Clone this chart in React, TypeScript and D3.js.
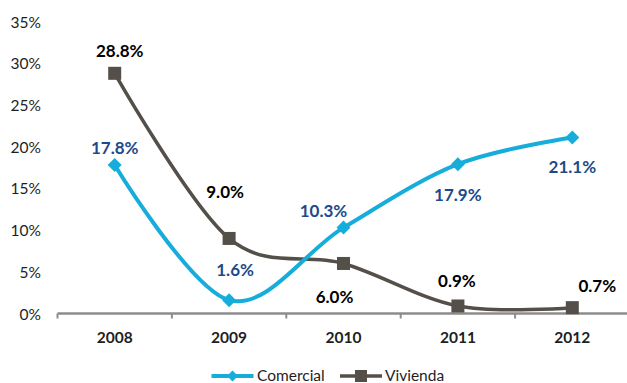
import React from 'react';
import * as d3 from 'd3';

const years = ['2008', '2009', '2010', '2011', '2012'];
const comercial = [17.8, 1.6, 10.3, 17.9, 21.1];
const vivienda = [28.8, 9.0, 6.0, 0.9, 0.7];
const yTicks = [0, 5, 10, 15, 20, 25, 30, 35];
const seriesNames = ['Comercial', 'Vivienda'];

// label placement offsets (dx, dy) relative to each point
const comercialLabelOffsets = [[0, -18], [6, -31], [-20, -17], [0, 30], [0, 29]];
const viviendaLabelOffsets = [[5, -23], [-4, -47], [-9, 33], [-1, -25], [25, -22]];

const W = 627;
const H = 383;
const FONT = 'Lato, "Open Sans", sans-serif';
const C_COM = '#17ADDA';
const C_COM_LABEL = '#1D4A8A';
const C_VIV = '#544F48';
const AXIS = '#8C8C8C';
const TEXT = '#1E1E1E';

export default function App() {
  const x = d3.scaleBand<string>().domain(years).range([57.5, 629.5]).paddingInner(0).paddingOuter(0);
  const y = d3.scaleLinear().domain([0, 35]).range([313.5, 21.6]);
  const cx = (yr: string) => (x(yr) as number) + x.bandwidth() / 2;

  const line = d3
    .line<number>()
    .x((_, i) => cx(years[i]))
    .y((d) => y(d))
    .curve(d3.curveCardinal.tension(0));

  const diamond = (px: number, py: number, r: number) =>
    `M${px},${py - r}L${px + r},${py}L${px},${py + r}L${px - r},${py}Z`;

  const boundaries = years.map((yr) => x(yr) as number);

  return (
    <svg width={W} height={H} style={{ position: 'absolute', left: 0, top: 0, background: '#fff' }}>
      {/* y tick labels */}
      {yTicks.map((t) => (
        <text
          key={t}
          x={41}
          y={y(t)}
          textAnchor="end"
          dominantBaseline="central"
          fontFamily={FONT}
          fontSize={15.5}
          fill={TEXT}
        >
          {t}%
        </text>
      ))}

      {/* x axis */}
      <line x1={57.5} x2={W} y1={y(0)} y2={y(0)} stroke={AXIS} strokeWidth={2.5} />
      {boundaries.map((b, i) => (
        <line key={i} x1={b} x2={b} y1={y(0)} y2={y(0) + 5} stroke={AXIS} strokeWidth={2} />
      ))}
      {years.map((yr) => (
        <text
          key={yr}
          x={cx(yr)}
          y={337}
          textAnchor="middle"
          dominantBaseline="central"
          fontFamily={FONT}
          fontWeight="bold"
          fontSize={15.5}
          fill={TEXT}
        >
          {yr}
        </text>
      ))}

      {/* lines */}
      <path d={line(vivienda) || ''} fill="none" stroke={C_VIV} strokeWidth={3.5} />
      <path d={line(comercial) || ''} fill="none" stroke={C_COM} strokeWidth={4} />

      {/* markers */}
      {vivienda.map((v, i) => (
        <rect key={'v' + i} x={cx(years[i]) - 6.5} y={y(v) - 6.5} width={13} height={13} fill={C_VIV} />
      ))}
      {comercial.map((v, i) => (
        <path key={'c' + i} d={diamond(cx(years[i]), y(v), 7)} fill={C_COM} />
      ))}

      {/* data labels */}
      {vivienda.map((v, i) => (
        <text
          key={'vl' + i}
          x={cx(years[i]) + viviendaLabelOffsets[i][0]}
          y={y(v) + viviendaLabelOffsets[i][1]}
          textAnchor="middle"
          dominantBaseline="central"
          fontFamily={FONT}
          fontWeight="bold"
          fontSize={17}
          fill="#000"
        >
          {v.toFixed(1)}%
        </text>
      ))}
      {comercial.map((v, i) => (
        <text
          key={'cl' + i}
          x={cx(years[i]) + comercialLabelOffsets[i][0]}
          y={y(v) + comercialLabelOffsets[i][1]}
          textAnchor="middle"
          dominantBaseline="central"
          fontFamily={FONT}
          fontWeight="bold"
          fontSize={17}
          fill={C_COM_LABEL}
        >
          {v.toFixed(1)}%
        </text>
      ))}

      {/* legend */}
      <g>
        <line x1={211.5} x2={253.5} y1={376} y2={376} stroke={C_COM} strokeWidth={4} />
        <path d={diamond(232.5, 376, 5.5)} fill={C_COM} />
        <text x={257} y={375} dominantBaseline="central" fontFamily={FONT} fontSize={15.5} fill={TEXT}>
          {seriesNames[0]}
        </text>
        <line x1={340} x2={382} y1={376} y2={376} stroke={C_VIV} strokeWidth={3.5} />
        <rect x={355} y={370} width={12} height={12} fill={C_VIV} />
        <text x={385} y={375} dominantBaseline="central" fontFamily={FONT} fontSize={15.5} fill={TEXT}>
          {seriesNames[1]}
        </text>
      </g>
    </svg>
  );
}
